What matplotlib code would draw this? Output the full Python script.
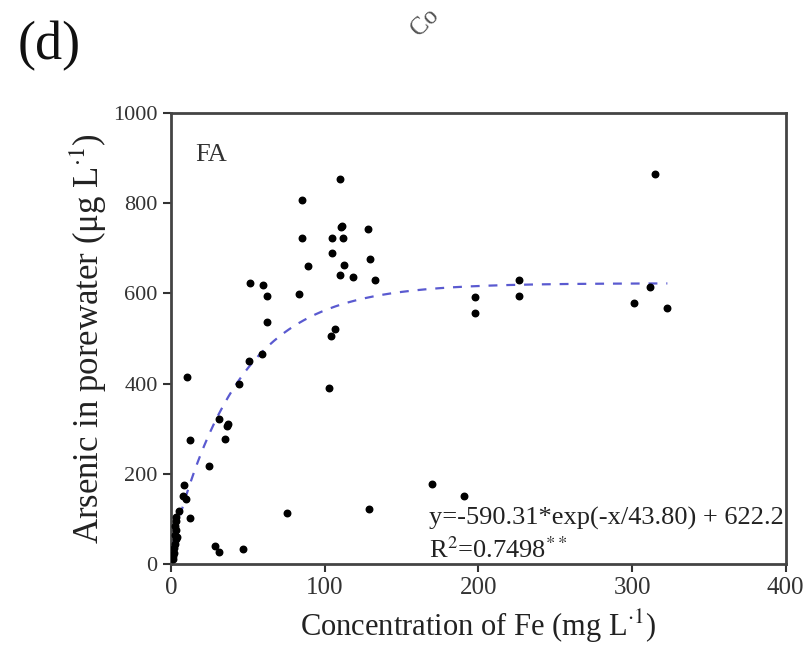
import matplotlib
matplotlib.use('Agg')
import matplotlib.pyplot as plt
import numpy as np

plt.rcParams['font.family'] = ['Liberation Serif', 'DejaVu Serif']
plt.rcParams['mathtext.fontset'] = 'stix'

# Fe concentration (mg/L) vs As in porewater (ug/L)
fe = [109.7, 85.5, 110.5, 111.5, 128.0, 85.5, 105.0, 112.0, 105.0, 89.0,
      112.3, 129.5, 109.7, 118.4, 132.5, 51.7, 60.0, 62.3, 83.3, 62.3,
      107.0, 104.0, 197.6, 197.6, 315.0, 226.8, 226.8, 311.7, 301.0, 322.5,
      50.8, 59.5, 44.0, 10.2, 31.0, 37.4, 36.8, 12.1, 35.3, 24.9,
      102.6, 8.7, 7.6, 9.7, 12.5, 75.3, 129.2, 170.0, 191.0, 28.6,
      31.6, 47.0, 5.4,
      3.5, 3.0, 2.8, 3.2, 2.5, 3.0, 2.6, 2.2, 2.0, 1.5, 4.0, 1.2]
arsenic = [854, 807, 746, 748, 742, 722, 722, 722, 690, 661,
           663, 676, 641, 635, 630, 622, 619, 595, 599, 536,
           521, 505, 592, 556, 864, 629, 595, 614, 579, 567,
           450, 465, 400, 414, 321, 311, 306, 274, 277, 217,
           389, 175, 151, 144, 103, 114, 121, 178, 151, 40,
           27, 33, 118,
           105, 95, 85, 75, 65, 55, 45, 35, 25, 18, 60, 10]

# exponential fit given on the chart: y = a*exp(-x/t) + c
fit_a = -590.31
fit_t = 43.80
fit_c = 622.2
fit_r2 = 0.7498
fit_xmax = 323

fig = plt.figure(figsize=(8.1, 6.52), dpi=100)
ax = fig.add_axes([0.211, 0.135, 0.759, 0.692])

ax.scatter(fe, arsenic, s=22, color='black', zorder=3)

xf = np.linspace(0, fit_xmax, 300)
ax.plot(xf, fit_a * np.exp(-xf / fit_t) + fit_c, linestyle=(0, (4, 4)),
        color='#5a5ad0', linewidth=1.6, zorder=2)

ax.set_xlim(0, 400)
ax.set_ylim(0, 1000)
ax.set_xticks([0, 100, 200, 300, 400])
ax.set_yticks([0, 200, 400, 600, 800, 1000])
ax.tick_params(direction='out', length=6, width=1.5, colors='#333333')
ax.tick_params(axis='x', labelsize=18)
ax.tick_params(axis='y', labelsize=16)
for s in ax.spines.values():
    s.set_linewidth(2)
    s.set_color('#444444')

ax.set_xlabel(r'Concentration of Fe (mg L$^{\cdot1}$)', fontsize=22,
              color='#222222', labelpad=6)
ax.set_ylabel(r'Arsenic in porewater (μg L$^{\cdot1}$)', fontsize=25,
              color='#222222', labelpad=3)

ax.text(0.04, 0.907, 'FA', transform=ax.transAxes, fontsize=19,
        color='#333333', va='center')
ax.text(0.42, 0.1, 'y=%.2f*exp(-x/%.2f) + %.1f' % (fit_a, fit_t, fit_c),
        transform=ax.transAxes, fontsize=19, color='#222222', va='center')
ax.text(0.42, 0.03, r'R$^2$=%.4f$^{**}$' % fit_r2,
        transform=ax.transAxes, fontsize=19, color='#222222', va='center')

fig.text(0.022, 0.93, '(d)', fontsize=39, color='#111111', va='center')
fig.text(0.503, 0.965, 'Co', fontsize=18, color='#555555', rotation=45,
         ha='left', va='center')

fig.savefig('out.png', dpi=100)
